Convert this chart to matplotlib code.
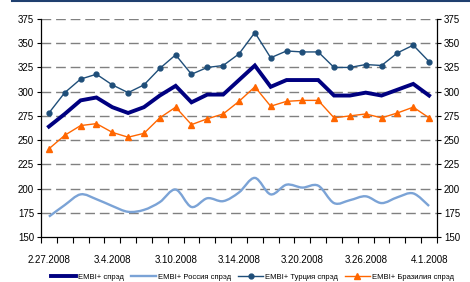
import matplotlib
matplotlib.use("Agg")
import matplotlib.pyplot as plt
import numpy as np
from matplotlib.path import Path
from matplotlib.patches import PathPatch
from matplotlib.lines import Line2D

plt.rcParams['font.family'] = ['Liberation Sans', 'DejaVu Sans']

# Spread data (bp), 25 trading days
labels = ["2.27.2008", "3.4.2008", "3.10.2008", "3.14.2008",
          "3.20.2008", "3.26.2008", "4.1.2008"]
embi = [264, 277, 291, 294, 284, 278, 284, 296, 306, 289, 297, 297, 312,
        327, 305, 312, 312, 312, 296, 296, 299, 296, 302, 308, 296]
russia = [171, 183, 194, 189, 182, 176, 178, 186, 199, 181, 190, 187, 196,
          211, 194, 204, 201, 203, 185, 188, 192, 185, 191, 195, 182]
turkey = [278, 299, 313, 318, 307, 299, 307, 324, 338, 318, 325, 327, 339,
          361, 335, 342, 341, 341, 325, 325, 328, 327, 340, 348, 331]
brazil = [241, 255, 265, 267, 258, 253, 257, 273, 284, 266, 272, 277, 290,
          305, 285, 290, 291, 291, 273, 275, 277, 273, 278, 284, 273]

n = len(embi)
x = np.arange(n)

fig = plt.figure(figsize=(4.7, 2.82), dpi=100)
ax = fig.add_axes([41 / 470, 45 / 282, 396 / 470, 218 / 282])

# dashed grid
for v in range(175, 400, 25):
    ax.axhline(v, color='#808080', lw=1.0, dashes=(7, 3.5), zorder=1)

ax.plot(x, embi, color='#000080', lw=2.8, solid_joinstyle='miter', zorder=4,
        label='EMBI+ спрэд')

# smoothed Russia line (Catmull-Rom through the points, as cubic beziers)
pts = np.column_stack([x, russia]).astype(float)
verts = [pts[0]]
codes = [Path.MOVETO]
for i in range(n - 1):
    p0 = pts[max(i - 1, 0)]
    p1 = pts[i]
    p2 = pts[i + 1]
    p3 = pts[min(i + 2, n - 1)]
    verts += [p1 + (p2 - p0) / 6, p2 - (p3 - p1) / 6, p2]
    codes += [Path.CURVE4] * 3
ax.add_patch(PathPatch(Path(verts, codes), fill=False, edgecolor='#7BA3D6',
                       lw=1.7, zorder=3))
ax.plot([], [], color='#7BA3D6', lw=1.7, label='EMBI+ Россия спрэд')

ax.plot(x, turkey, color='#1F4E79', lw=1.0, marker='o', ms=3.5, zorder=5,
        label='EMBI+ Турция спрэд')
ax.plot(x, brazil, color='#FF6600', lw=1.0, marker='^', ms=4.5, zorder=5,
        label='EMBI+ Бразилия спрэд')

ax.set_xlim(-0.5, n - 0.5)
ax.set_ylim(150, 375)
ax.set_yticks(range(150, 400, 25))
ax.tick_params(axis='y', labelsize=7, length=3, width=0.8, pad=2,
               left=True, right=True, labelleft=True, labelright=True)
ax.set_xticks(np.arange(0, n, 4))
ax.set_xticklabels(labels)
ax.set_xticks(np.arange(-0.5, n, 1), minor=True)
ax.tick_params(axis='x', which='major', length=0, labelsize=7, pad=13)
ax.tick_params(axis='x', which='minor', length=4, width=0.8)

ax.spines['top'].set_visible(False)
for s in ['left', 'right', 'bottom']:
    ax.spines[s].set_linewidth(0.9)

ax.legend(loc='center', bbox_to_anchor=(0.534, -0.183), ncol=4,
          frameon=False, fontsize=5.5, handlelength=3.3, columnspacing=0.9,
          handletextpad=0.25, borderaxespad=0, borderpad=0)

fig.add_artist(Line2D([12 / 470, 1], [0.997, 0.997], color='#1F3F6F', lw=1.5))

fig.savefig('out.png', dpi=100)
